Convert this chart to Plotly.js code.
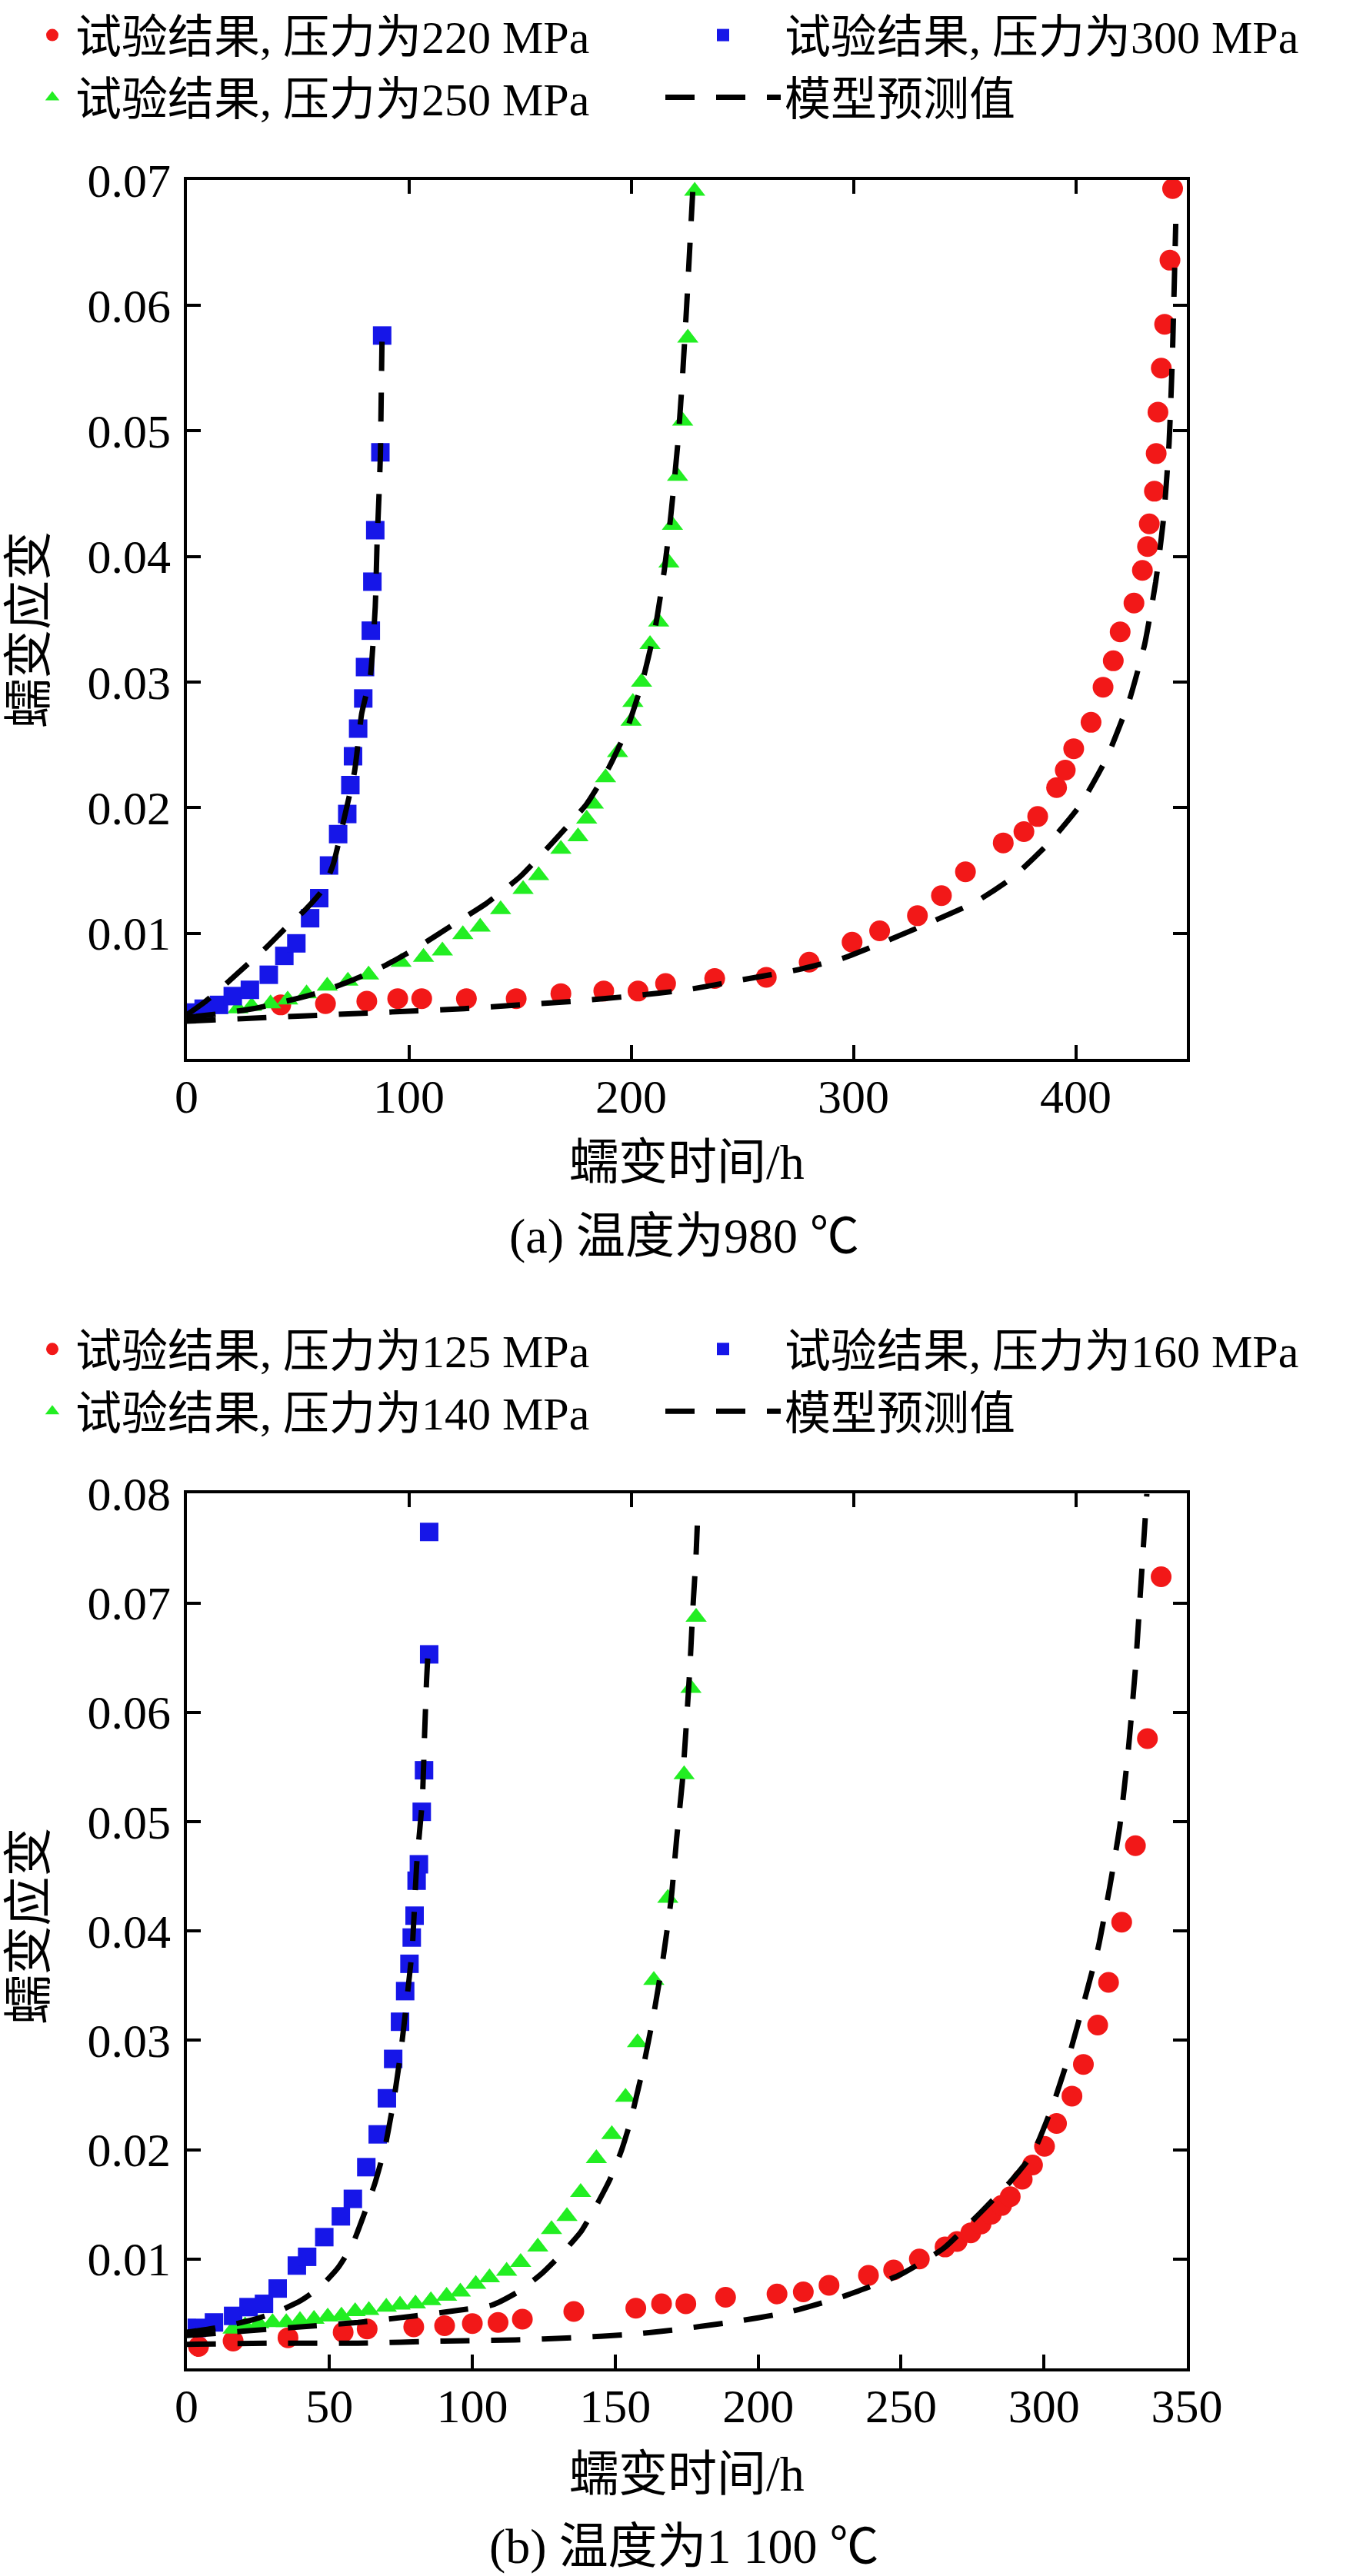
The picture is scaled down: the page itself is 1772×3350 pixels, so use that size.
<!DOCTYPE html>
<html>
<head>
<meta charset="utf-8">
<script src="https://cdn.plot.ly/plotly-3.0.1.min.js"></script>
<style>
  html, body { margin: 0; padding: 0; background: #ffffff; }
  #chart { width: 1772px; height: 3350px; }
</style>
</head>
<body>
<div id="chart"></div>
<script>
// ---------- (a) 980 ℃ : test results ----------
var t220 = [42.4, 62.5, 81.1, 95.0, 105.8, 125.9, 148.3, 168.4, 187.7, 203.1, 215.5, 237.6, 260.8, 280.1, 299.4, 311.8, 328.8, 339.6, 350.4, 367.4, 376.7, 382.9, 391.4, 395.3, 399.1, 406.9, 412.3, 416.9, 420.0, 426.2, 430.0, 432.3, 433.1, 435.4, 436.2, 437.0, 438.5, 440.0, 442.4, 443.6];
var e220 = [0.0043, 0.0044, 0.0046, 0.0048, 0.0048, 0.0048, 0.0048, 0.0052, 0.0054, 0.0054, 0.0060, 0.0064, 0.0065, 0.0077, 0.0093, 0.0102, 0.0114, 0.0130, 0.0149, 0.0172, 0.0181, 0.0193, 0.0216, 0.0230, 0.0247, 0.0268, 0.0296, 0.0317, 0.0340, 0.0363, 0.0389, 0.0408, 0.0426, 0.0452, 0.0482, 0.0515, 0.0550, 0.0585, 0.0636, 0.0693];

var t250 = [23.1, 29.3, 37.8, 45.5, 54.0, 63.3, 72.6, 81.9, 96.5, 106.6, 115.1, 124.3, 132.1, 141.3, 151.4, 158.4, 168.4, 176.1, 180.0, 183.0, 188.5, 193.9, 200.0, 200.8, 204.7, 208.5, 212.4, 217.0, 218.6, 220.9, 223.2, 225.5, 228.6];
var e250 = [0.0040, 0.0042, 0.0044, 0.0047, 0.0052, 0.0058, 0.0062, 0.0067, 0.0077, 0.0081, 0.0086, 0.0099, 0.0105, 0.0119, 0.0135, 0.0146, 0.0167, 0.0177, 0.0191, 0.0203, 0.0224, 0.0244, 0.0269, 0.0284, 0.0300, 0.0330, 0.0348, 0.0395, 0.0425, 0.0464, 0.0508, 0.0574, 0.0691];

var t300 = [2.9, 7.7, 14.6, 20.8, 28.5, 37.0, 44.0, 49.4, 55.6, 59.7, 64.1, 68.2, 72.3, 73.7, 74.9, 77.2, 79.5, 80.3, 82.9, 83.6, 84.9, 87.2, 88.0];
var e300 = [0.0037, 0.0040, 0.0043, 0.0050, 0.0055, 0.0067, 0.0082, 0.0092, 0.0112, 0.0128, 0.0154, 0.0179, 0.0195, 0.0218, 0.0241, 0.0263, 0.0287, 0.0312, 0.0341, 0.0380, 0.0421, 0.0483, 0.0576];

// (a) model predictions
var tm220 = [0, 25, 50, 75, 100, 125, 150, 175, 200, 225, 250, 275, 295, 315, 335, 355, 372, 388, 402, 414, 424, 431, 436, 439.5, 442, 443.5, 445];
var em220 = [0.0030, 0.0032, 0.0034, 0.0036, 0.0038, 0.0040, 0.0043, 0.0046, 0.0050, 0.0055, 0.0063, 0.0071, 0.0080, 0.0094, 0.0109, 0.0125, 0.0145, 0.0172, 0.0202, 0.0240, 0.0285, 0.0330, 0.0380, 0.0430, 0.0490, 0.0560, 0.0665];
var tm250 = [0, 15, 30, 45, 60, 75, 90, 105, 120, 135, 150, 165, 180, 190, 198, 205, 211, 215, 218, 221, 223, 225, 226.5, 228];
var em250 = [0.0033, 0.0036, 0.0040, 0.0046, 0.0053, 0.0063, 0.0075, 0.0090, 0.0107, 0.0124, 0.0145, 0.0173, 0.0203, 0.0232, 0.0262, 0.0300, 0.0345, 0.0390, 0.0435, 0.0490, 0.0540, 0.0600, 0.0650, 0.0700];
var tm300 = [0, 8, 16, 26, 36, 45, 53, 61, 66, 70.2, 75.6, 78.8, 82.7, 84.9, 85.7, 86.5, 87.2, 87.6, 88];
var em300 = [0.0035, 0.0045, 0.0057, 0.0073, 0.0089, 0.0105, 0.0118, 0.0134, 0.0155, 0.0186, 0.0229, 0.0275, 0.0305, 0.0360, 0.0410, 0.0445, 0.0480, 0.0530, 0.0580];

// ---------- (b) 1 100 ℃ : test results ----------
var t125 = [4.2, 16.3, 35.5, 54.8, 63.2, 79.5, 90.3, 100.0, 109.0, 117.5, 135.5, 157.2, 166.2, 174.7, 188.6, 206.6, 215.8, 224.8, 238.6, 247.4, 256.4, 265.4, 269.6, 274.4, 278.0, 281.6, 285.2, 288.2, 292.4, 296.0, 300.2, 304.4, 309.8, 313.8, 318.8, 322.6, 327.2, 332.0, 336.2, 341.0];
var e125 = [0.0020, 0.0025, 0.0028, 0.0033, 0.0036, 0.0038, 0.0039, 0.0041, 0.0042, 0.0045, 0.0052, 0.0055, 0.0059, 0.0059, 0.0065, 0.0068, 0.0070, 0.0076, 0.0085, 0.0090, 0.0100, 0.0111, 0.0116, 0.0124, 0.0132, 0.0141, 0.0149, 0.0157, 0.0173, 0.0186, 0.0203, 0.0224, 0.0249, 0.0278, 0.0314, 0.0353, 0.0408, 0.0478, 0.0576, 0.0724];

var t140 = [16.3, 20.5, 25.3, 30.1, 34.9, 39.7, 44.6, 49.4, 54.2, 59.0, 63.8, 69.9, 74.7, 80.1, 85.5, 91.0, 95.8, 101.2, 106.0, 112.0, 116.9, 122.9, 127.7, 133.1, 137.9, 143.4, 148.8, 153.6, 157.8, 163.5, 168.4, 174.1, 176.5, 178.3];
var e140 = [0.0036, 0.0039, 0.0041, 0.0042, 0.0042, 0.0044, 0.0045, 0.0047, 0.0048, 0.0052, 0.0053, 0.0056, 0.0058, 0.0059, 0.0062, 0.0066, 0.0070, 0.0077, 0.0083, 0.0089, 0.0097, 0.0111, 0.0127, 0.0139, 0.0161, 0.0192, 0.0214, 0.0248, 0.0298, 0.0355, 0.0430, 0.0543, 0.0622, 0.0687];

var t160 = [3.6, 9.6, 16.3, 21.7, 27.1, 31.9, 38.6, 42.2, 48.2, 54.0, 58.2, 62.9, 66.9, 70.1, 72.3, 74.7, 76.5, 78.0, 78.8, 79.8, 80.5, 81.3, 82.3, 83.1, 84.9, 84.9];
var e160 = [0.0037, 0.0042, 0.0048, 0.0056, 0.0059, 0.0073, 0.0094, 0.0102, 0.0120, 0.0139, 0.0155, 0.0184, 0.0214, 0.0247, 0.0283, 0.0317, 0.0345, 0.0370, 0.0394, 0.0414, 0.0446, 0.0461, 0.0509, 0.0547, 0.0653, 0.0765];

// (b) model predictions
var tm125 = [0, 30, 60, 90, 115, 135, 155, 170, 190, 210, 230, 250, 265, 278, 288, 296, 303, 309, 314, 319, 323, 326.5, 329.5, 332, 334, 336];
var em125 = [0.0022, 0.0023, 0.0023, 0.0025, 0.0026, 0.0028, 0.0031, 0.0035, 0.0042, 0.0051, 0.0066, 0.0086, 0.0110, 0.0143, 0.0170, 0.0196, 0.0240, 0.0288, 0.0335, 0.0385, 0.0440, 0.0495, 0.0565, 0.0640, 0.0720, 0.0800];
var tm140 = [0, 20, 40, 60, 80, 95, 107, 116, 124, 131, 138, 143, 148, 152, 155, 159.6, 163.6, 166.8, 169.6, 171.5, 173.5, 174.9, 176.1, 177.1, 178.3, 179];
var em140 = [0.0030, 0.0034, 0.0038, 0.0042, 0.0048, 0.0053, 0.0058, 0.0070, 0.0086, 0.0104, 0.0125, 0.0147, 0.0172, 0.0198, 0.0223, 0.0273, 0.0326, 0.0376, 0.0430, 0.0485, 0.0537, 0.0590, 0.0640, 0.0692, 0.0745, 0.0790];
var tm160 = [0, 8, 16, 24, 32, 40, 47, 53, 58, 62, 66, 69.5, 72.5, 75, 77, 79, 80.5, 82.5, 83.3, 84, 84.6];
var em160 = [0.0033, 0.0036, 0.0040, 0.0045, 0.0052, 0.0062, 0.0075, 0.0092, 0.0113, 0.0140, 0.0170, 0.0203, 0.0245, 0.0290, 0.0335, 0.0385, 0.0460, 0.0520, 0.0580, 0.0630, 0.0660];

// ticks and labels
var xTicksA = [0, 100, 200, 300, 400];
var yTicksA = [0.01, 0.02, 0.03, 0.04, 0.05, 0.06, 0.07];
var xTicksB = [0, 50, 100, 150, 200, 250, 300, 350];
var yTicksB = [0.01, 0.02, 0.03, 0.04, 0.05, 0.06, 0.07, 0.08];
var topTicksB = [100, 200, 300, 400];   // top frame of (b) carries (a)'s tick spacing

var namesA = ['试验结果, 压力为220 MPa', '试验结果, 压力为250 MPa', '试验结果, 压力为300 MPa'];
var namesB = ['试验结果, 压力为125 MPa', '试验结果, 压力为140 MPa', '试验结果, 压力为160 MPa'];
var modelName = '模型预测值';
var yTitle = '蠕变应变';
var xTitle = '蠕变时间/h';
var captionA = '(a) 温度为980 ℃';
var captionB = '(b) 温度为1 100 ℃';

var RED = '#f21818', GREEN = '#22ee22', BLUE = '#1616e8';
var SERIF = 'Liberation Serif, Noto Sans CJK SC, serif';

function pts(x, y, name, color, symbol, size, xa, ya, leg) {
    return {
        x: x, y: y, name: name, type: 'scatter', mode: 'markers',
        marker: {color: color, symbol: symbol, size: size, line: {width: 0}},
        xaxis: xa, yaxis: ya, legend: leg, hoverinfo: 'skip'
    };
}
function model(x, y, xa, ya, leg, show) {
    return {
        x: x, y: y, name: modelName, type: 'scatter', mode: 'lines',
        line: {color: '#000000', width: 7, dash: '38px,28px', shape: 'spline', smoothing: 0.5},
        xaxis: xa, yaxis: ya, legend: leg, showlegend: show, legendgroup: 'm' + leg,
        hoverinfo: 'skip'
    };
}

var data = [
    // (a)
    pts(t220, e220, namesA[0], RED, 'circle', 27, 'x', 'y', 'legend'),
    pts(t250, e250, namesA[1], GREEN, 'triangle-up', 24, 'x', 'y', 'legend'),
    pts(t300, e300, namesA[2], BLUE, 'square', 24, 'x', 'y', 'legend2'),
    model(tm220, em220, 'x', 'y', 'legend2', true),
    model(tm250, em250, 'x', 'y', 'legend2', false),
    model(tm300, em300, 'x', 'y', 'legend2', false),
    // (b)
    pts(t125, e125, namesB[0], RED, 'circle', 27, 'x2', 'y2', 'legend3'),
    pts(t140, e140, namesB[1], GREEN, 'triangle-up', 24, 'x2', 'y2', 'legend3'),
    pts(t160, e160, namesB[2], BLUE, 'square', 24, 'x2', 'y2', 'legend4'),
    model(tm125, em125, 'x2', 'y2', 'legend4', true),
    model(tm140, em140, 'x2', 'y2', 'legend4', false),
    model(tm160, em160, 'x2', 'y2', 'legend4', false),
    // keeps the top frame axis of (b) alive
    {x: [], y: [], type: 'scatter', mode: 'markers', xaxis: 'x3', yaxis: 'y2', showlegend: false, hoverinfo: 'skip'}
];

var W = 1772, H = 3350;
var xDom = [242.5 / W, 1543 / W];

function axisStyle(extra) {
    var base = {
        showgrid: false, zeroline: false,
        showline: true, linecolor: '#000000', linewidth: 4,
        ticks: 'inside', ticklen: 18, tickwidth: 4, tickcolor: '#000000',
        tickfont: {family: SERIF, size: 62, color: '#000000'},
        fixedrange: true
    };
    for (var k in extra) base[k] = extra[k];
    return base;
}

function legendStyle(x, y, itemwidth) {
    return {
        x: x, y: y, xanchor: 'left', yanchor: 'top', orientation: 'v',
        font: {family: SERIF, size: 60, color: '#000000'},
        bgcolor: 'rgba(0,0,0,0)', borderwidth: 0, itemwidth: itemwidth,
        tracegroupgap: 0
    };
}

function note(text, x, y, angle) {
    return {
        text: text, x: x, y: y, xref: 'paper', yref: 'paper',
        xanchor: 'center', yanchor: 'middle', showarrow: false,
        textangle: angle || 0,
        font: {family: SERIF, size: 64, color: '#000000'}
    };
}

var layout = {
    width: W, height: H,
    margin: {l: 0, r: 0, t: 0, b: 0},
    paper_bgcolor: '#ffffff', plot_bgcolor: '#ffffff',
    showlegend: true,
    xaxis: axisStyle({domain: xDom, anchor: 'y', range: [0, 450], tickvals: xTicksA,
        mirror: 'ticks', ticklabelstandoff: -8}),
    yaxis: axisStyle({domain: [1 - 1366.4 / H, 1 - 217 / H], anchor: 'x', range: [0, 0.07],
        tickvals: yTicksA, tickformat: '.2f', mirror: 'ticks', ticklabelstandoff: 4}),
    xaxis2: axisStyle({domain: xDom, anchor: 'y2', range: [0, 350], tickvals: xTicksB,
        mirror: false, ticklabelstandoff: -8}),
    yaxis2: axisStyle({domain: [1 - 3078.5 / H, 1 - 1934.8 / H], anchor: 'x2', range: [0, 0.08],
        tickvals: yTicksB, tickformat: '.2f', mirror: 'ticks', ticklabelstandoff: 4}),
    xaxis3: axisStyle({overlaying: 'x2', anchor: 'y2', side: 'top', range: [0, 450],
        tickvals: topTicksB, showticklabels: false}),
    legend: legendStyle(38 / W, 1 + 18 / H, 50),
    legend2: legendStyle(860 / W, 1 + 18 / H, 150),
    legend3: legendStyle(38 / W, 1 - 1700 / H, 50),
    legend4: legendStyle(860 / W, 1 - 1700 / H, 150),
    annotations: [
        note(yTitle, 38 / W, 1 - 805 / H, -90),
        note(xTitle, 893 / W, 1 - 1502 / H),
        note(captionA, 890 / W, 1 - 1598 / H),
        note(yTitle, 38 / W, 1 - 2500 / H, -90),
        note(xTitle, 893 / W, 1 - 3217 / H),
        note(captionB, 890 / W, 1 - 3311 / H)
    ]
};

Plotly.newPlot('chart', data, layout, {staticPlot: true, displayModeBar: false});
</script>
</body>
</html>
